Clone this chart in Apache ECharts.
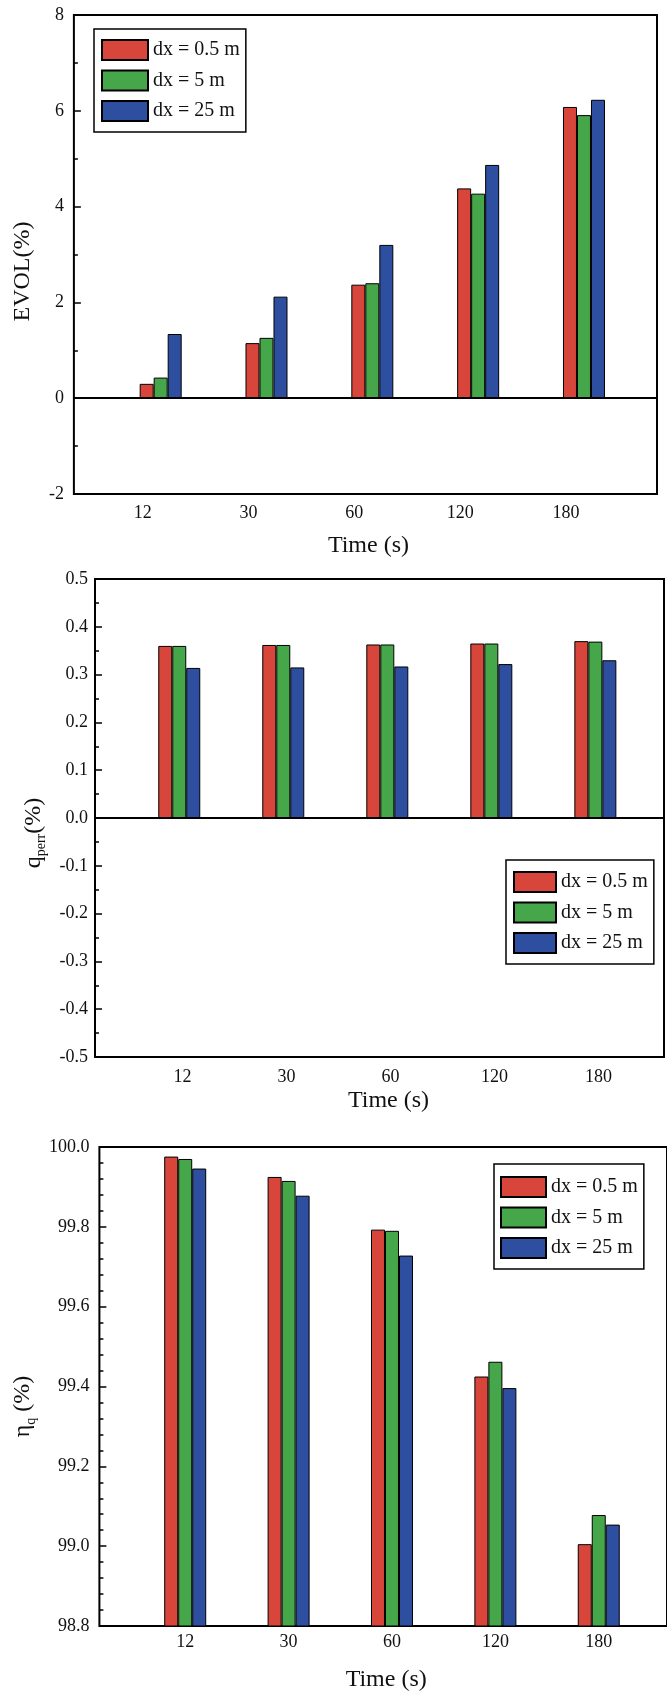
<!DOCTYPE html>
<html>
<head>
<meta charset="utf-8">
<script src="https://cdn.jsdelivr.net/npm/echarts@6/dist/echarts.min.js"></script>
<style>
  html, body { margin: 0; padding: 0; background: #ffffff; }
  #chart { width: 667px; height: 1695px; }
</style>
</head>
<body>
<div id="chart"></div>
<script>
// Simulation times (categories on the x axis)
const timeLabels = ['12', '30', '60', '120', '180'];
// Grid spacing cases
const seriesNames = ['dx = 0.5 m', 'dx = 5 m', 'dx = 25 m'];
const seriesColors = ['#d8453a', '#46a64a', '#2e4f9f'];

// Volume error EVOL (%)
const evolDx05 = [0.30, 1.15, 2.37, 4.38, 6.08];
const evolDx5  = [0.43, 1.26, 2.40, 4.27, 5.91];
const evolDx25 = [1.34, 2.12, 3.20, 4.87, 6.23];
const evolAxis = [-2, 8, 2];          // min, max, interval

// Peak discharge error q_perr (%)
const qperrDx05 = [0.360, 0.362, 0.363, 0.365, 0.370];
const qperrDx5  = [0.360, 0.362, 0.363, 0.365, 0.369];
const qperrDx25 = [0.314, 0.315, 0.317, 0.322, 0.330];
const qperrAxis = [-0.5, 0.5, 0.1];

// Discharge efficiency eta_q (%)
const etaDx05 = [99.976, 99.925, 99.793, 99.425, 99.005];
const etaDx5  = [99.970, 99.915, 99.790, 99.462, 99.078];
const etaDx25 = [99.946, 99.878, 99.728, 99.396, 99.054];
const etaAxis = [98.8, 100.0, 0.2];

const FONT = '"Liberation Serif", "Times New Roman", serif';
const INK = '#111111';

const panels = [
  {
    values: [evolDx05, evolDx5, evolDx25], axis: evolAxis, decimals: 0, minorSplit: 2,
    grid: { left: 73, top: 15, width: 584, height: 479 },
    xPad: [0.82, 0.69], labelShift: -0.17, labelMargin: 10,
    xName: 'Time (s)', xNameGap: 40, xNameShift: 3,
    yName: 'EVOL(%)', yNameGap: 33, yNameShift: 17, yLabelMargin: 10,
    legend: { left: 94, top: 29, itemWidth: 46, padding: [10, 6, 10, 7] },
    zeroLine: true
  },
  {
    values: [qperrDx05, qperrDx5, qperrDx25], axis: qperrAxis, decimals: 1, minorSplit: 2,
    grid: { left: 95, top: 579, width: 569, height: 478 },
    xPad: [0.81, 0.66], labelShift: 0.03, labelMargin: 11,
    xName: 'Time (s)', xNameGap: 32, xNameShift: 9,
    yName: '{i|q}{s|perr}{i|(%)}', yNameGap: 46, yNameShift: 15, yLabelMargin: 7,
    legend: { left: 506, top: 860, itemWidth: 42, padding: [11, 6, 10, 7] },
    zeroLine: true
  },
  {
    values: [etaDx05, etaDx5, etaDx25], axis: etaAxis, decimals: 1, minorSplit: 5,
    grid: { left: 99, top: 1147, width: 571, height: 479 },
    xPad: [0.83, 0.66], labelShift: 0, labelMargin: 7,
    xName: 'Time (s)', xNameGap: 42, xNameShift: 3,
    yName: '{i|η}{s|q}{i| (%)}', yNameGap: 61, yNameShift: 20, yLabelMargin: 10,
    legend: { left: 494, top: 1164, itemWidth: 45, padding: [12, 6, 10, 6] },
    zeroLine: false
  }
];

const richName = {
  i: { fontFamily: FONT, fontSize: 24, color: INK, lineHeight: 30 },
  s: { fontFamily: FONT, fontSize: 14, color: INK, lineHeight: 14, verticalAlign: 'bottom' }
};

const option = {
  animation: false,
  backgroundColor: '#ffffff',
  grid: [], xAxis: [], yAxis: [], legend: [], series: []
};

panels.forEach((p, gi) => {
  option.grid.push(Object.assign({
    show: true, borderColor: '#000', borderWidth: 2, backgroundColor: 'transparent'
  }, p.grid));

  const n = timeLabels.length;
  option.xAxis.push({
    gridIndex: gi,
    type: 'value',
    min: 1 - p.xPad[0],
    max: n + p.xPad[1],
    axisLine: { show: false, onZero: false },
    axisTick: { show: false },
    splitLine: { show: false },
    axisLabel: {
      customValues: timeLabels.map((_, k) => k + 1 + p.labelShift),
      formatter: v => timeLabels[Math.round(v - p.labelShift) - 1],
      margin: p.labelMargin,
      fontFamily: FONT, fontSize: 18, color: INK
    },
    name: p.xName,
    nameLocation: 'middle',
    nameGap: p.xNameGap,
    nameTextStyle: {
      fontFamily: FONT, fontSize: 24, color: INK,
      padding: [0, 0, 0, 2 * p.xNameShift]
    }
  });

  option.yAxis.push({
    gridIndex: gi,
    type: 'value',
    min: p.axis[0], max: p.axis[1], interval: p.axis[2],
    axisLine: { show: false, onZero: false },
    axisTick: { show: true, inside: true, length: 7, lineStyle: { color: '#000', width: 1.5 } },
    minorTick: { show: true, splitNumber: p.minorSplit, length: 4, lineStyle: { color: '#000', width: 1.5 } },
    splitLine: { show: false },
    minorSplitLine: { show: false },
    axisLabel: {
      formatter: v => (Math.abs(v) < 1e-9 ? 0 : v).toFixed(p.decimals),
      margin: p.yLabelMargin,
      fontFamily: FONT, fontSize: 18, color: INK
    },
    name: p.yName,
    nameLocation: 'middle',
    nameRotate: 90,
    nameGap: p.yNameGap,
    nameTextStyle: {
      fontFamily: FONT, fontSize: 24, color: INK, lineHeight: 30,
      padding: [0, 2 * p.yNameShift, 0, 0],
      rich: richName
    }
  });

  option.legend.push({
    data: seriesNames,
    orient: 'vertical',
    left: p.legend.left, top: p.legend.top,
    itemWidth: p.legend.itemWidth, itemHeight: 20, itemGap: 8.5,
    icon: 'rect',
    selectedMode: false,
    borderColor: '#000', borderWidth: 1.5, borderRadius: 0,
    padding: p.legend.padding,
    backgroundColor: '#ffffff',
    textStyle: { fontFamily: FONT, fontSize: 20, color: INK }
  });

  p.values.forEach((vals, si) => {
    const s = {
      type: 'bar',
      name: seriesNames[si],
      xAxisIndex: gi, yAxisIndex: gi,
      data: vals.map((v, k) => [k + 1, v]),
      barWidth: 14,
      barGap: '0%',
      itemStyle: { color: seriesColors[si], borderColor: '#000', borderWidth: 1 }
    };
    if (si === 0 && p.zeroLine) {
      s.markLine = {
        silent: true,
        symbol: ['none', 'none'],
        label: { show: false },
        lineStyle: { color: '#000', width: 2, type: 'solid' },
        data: [{ yAxis: 0 }]
      };
    }
    option.series.push(s);
  });
});

const chart = echarts.init(document.getElementById('chart'), null, { renderer: 'canvas' });
chart.setOption(option);
</script>
</body>
</html>
